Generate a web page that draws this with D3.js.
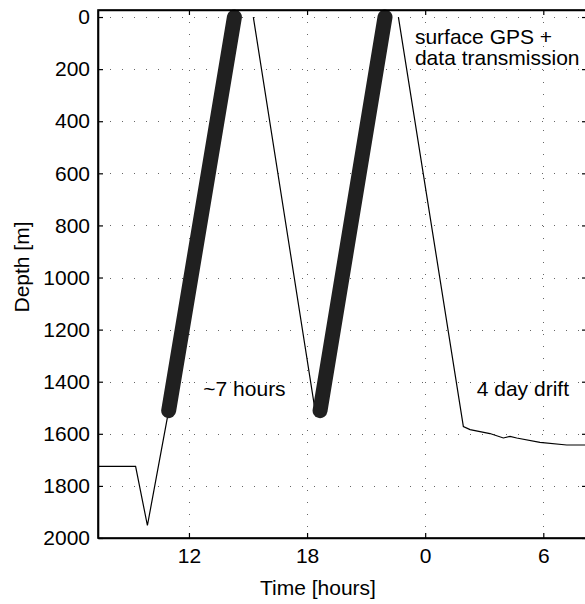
<!DOCTYPE html>
<html>
<head>
<meta charset="utf-8">
<script src="https://cdn.jsdelivr.net/npm/d3@7"></script>
<style>
  body { margin: 0; background: #fff; }
  svg text { font-family: "Liberation Sans", Arial, Helvetica, sans-serif; fill: #000; }
</style>
</head>
<body>
<div id="chart"></div>
<script>
// time in hours since the start of day one (24 = midnight, 30 = 6 am next day)
const timeTicks = [12, 18, 24, 30];
const timeTickLabels = ["12", "18", "0", "6"];
const depthTicks = [0, 200, 400, 600, 800, 1000, 1200, 1400, 1600, 1800, 2000];

// float track (thin line), null = surfaced / no data
const floatTime = [7.38, 9.29, 9.89, 10.97, 14.31, null,
  15.27, 18.45, 18.66, 21.96, null,
  22.64, 25.94, 26.28, 27.29, 27.97, 28.31, 28.65, 29.83, 31.19, 32.22];
const floatDepth = [1725, 1725, 1952, 1511, 0, null,
  0, 1530, 1511, 0, null,
  0, 1572, 1584, 1599, 1616, 1610, 1616, 1633, 1643, 1643];

// sampled profiles (thick lines)
const profileStartTime = [10.97, 18.66];
const profileEndTime = [14.31, 21.96];
const profileStartDepth = [1511, 1511];
const profileEndDepth = [0, 0];

// annotations
const noteText = [["surface GPS +", "data transmission"], ["~7 hours"], ["4 day drift"]];
const noteTime = [23.48, 12.73, 26.62];
const noteDepth = [103, 1456, 1456];

const width = 585, height = 604;
const plotLeft = 98, plotRight = 587, plotTop = 10, plotBottom = 538;

const svg = d3.select("#chart").append("svg")
  .attr("width", width)
  .attr("height", height);

const x = d3.scaleLinear().domain([7.38, 32.22]).range([plotLeft, plotRight]);
const y = d3.scaleLinear().domain([-27, 2000]).range([plotTop, plotBottom]);

// dotted grid
const grid = svg.append("g")
  .attr("stroke", "#666")
  .attr("stroke-width", 1)
  .attr("stroke-dasharray", "1,11");

grid.selectAll(".gx")
  .data(timeTicks)
  .join("line")
  .attr("x1", (d) => Math.round(x(d)) + 0.5)
  .attr("x2", (d) => Math.round(x(d)) + 0.5)
  .attr("y1", plotTop)
  .attr("y2", plotBottom);

grid.selectAll(".gy")
  .data(depthTicks)
  .join("line")
  .attr("x1", plotLeft)
  .attr("x2", plotRight)
  .attr("y1", (d) => Math.round(y(d)) + 0.5)
  .attr("y2", (d) => Math.round(y(d)) + 0.5);

// thin float track
const track = floatTime.map((t, i) => ({ t: t, d: floatDepth[i] }));
const line = d3.line()
  .defined((p) => p.t != null && p.d != null)
  .x((p) => x(p.t))
  .y((p) => y(p.d));

svg.append("path")
  .datum(track)
  .attr("fill", "none")
  .attr("stroke", "#000")
  .attr("stroke-width", 1.2)
  .attr("d", line);

// thick profile segments
svg.selectAll(".profile")
  .data(profileStartTime)
  .join("line")
  .attr("x1", (d) => x(d))
  .attr("y1", (d, i) => y(profileStartDepth[i]))
  .attr("x2", (d, i) => x(profileEndTime[i]))
  .attr("y2", (d, i) => y(profileEndDepth[i]))
  .attr("stroke", "#202020")
  .attr("stroke-width", 15)
  .attr("stroke-linecap", "round");

// axes, ticks pointing inward
const fmtTime = (d) => timeTickLabels[timeTicks.indexOf(d)];

const xAxis = svg.append("g")
  .attr("transform", `translate(0,${plotBottom})`)
  .call(d3.axisBottom(x).tickValues(timeTicks).tickFormat(fmtTime)
    .tickSizeInner(-5).tickSizeOuter(0).tickPadding(10));

const xTop = svg.append("g")
  .attr("transform", `translate(0,${plotTop})`)
  .call(d3.axisTop(x).tickValues(timeTicks).tickFormat("")
    .tickSizeInner(-5).tickSizeOuter(0));

const yAxis = svg.append("g")
  .attr("transform", `translate(${plotLeft},0)`)
  .call(d3.axisLeft(y).tickValues(depthTicks).tickFormat(d3.format("d"))
    .tickSizeInner(-5).tickSizeOuter(0).tickPadding(8));

const yRight = svg.append("g")
  .attr("transform", `translate(${plotRight},0)`)
  .call(d3.axisRight(y).tickValues(depthTicks).tickFormat("")
    .tickSizeInner(-5).tickSizeOuter(0));

[xAxis, xTop, yAxis, yRight].forEach((g) => {
  g.select(".domain").attr("stroke", "#000").attr("stroke-width", 1.6);
  g.selectAll(".tick line").attr("stroke", "#000").attr("stroke-width", 1.2);
  g.selectAll("text").attr("font-size", 21).attr("font-family", null);
});

// frame
svg.append("rect")
  .attr("x", plotLeft)
  .attr("y", plotTop)
  .attr("width", plotRight - plotLeft)
  .attr("height", plotBottom - plotTop)
  .attr("fill", "none")
  .attr("stroke", "#000")
  .attr("stroke-width", 1.6);

// axis labels
svg.append("text")
  .attr("x", 318)
  .attr("y", 595)
  .attr("text-anchor", "middle")
  .attr("font-size", 21)
  .text("Time [hours]");

svg.append("text")
  .attr("transform", "translate(29,267) rotate(-90)")
  .attr("text-anchor", "middle")
  .attr("font-size", 21)
  .text("Depth [m]");

// annotations
noteText.forEach((lines, i) => {
  const txt = svg.append("text")
    .attr("x", x(noteTime[i]))
    .attr("y", y(noteDepth[i]))
    .attr("font-size", 21);
  lines.forEach((s, j) => {
    txt.append("tspan")
      .attr("x", x(noteTime[i]))
      .attr("dy", j === 0 ? 0 : 21)
      .text(s);
  });
});
</script>
</body>
</html>
